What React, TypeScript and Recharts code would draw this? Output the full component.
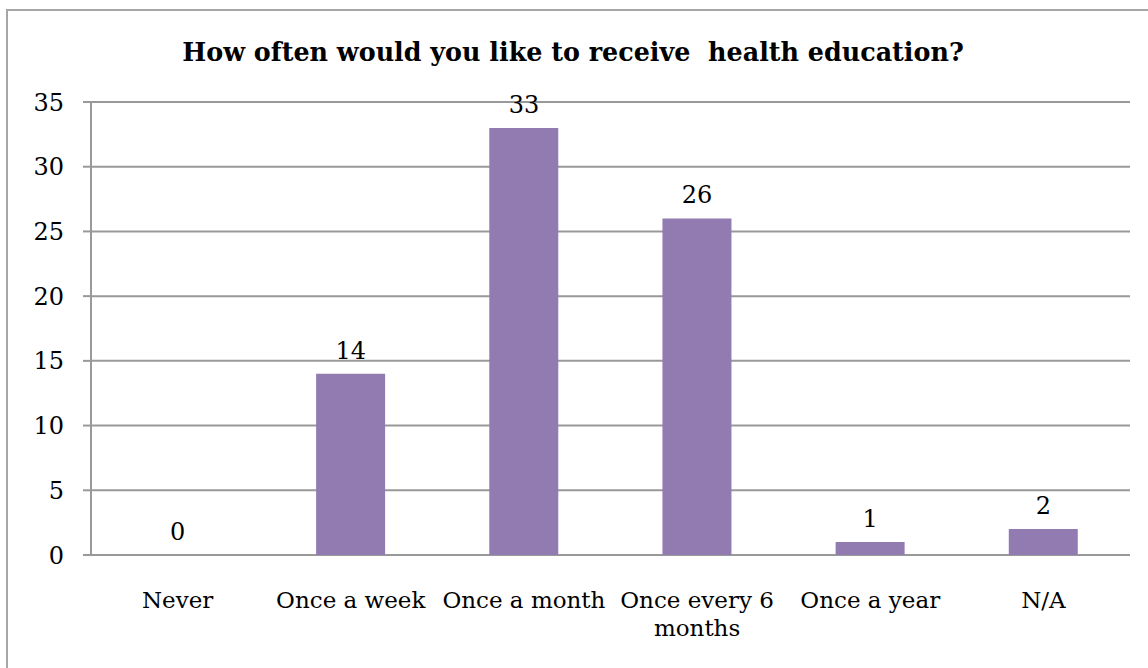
import React from "react";
import {
  Bar,
  ComposedChart,
  CartesianGrid,
  LabelList,
  Line,
  XAxis,
  YAxis,
} from "recharts";

const categories = [
  "Never",
  "Once a week",
  "Once a month",
  "Once every 6 months",
  "Once a year",
  "N/A",
];
const counts = [0, 14, 33, 26, 1, 2];
const tickLines = [
  ["Never"],
  ["Once a week"],
  ["Once a month"],
  ["Once every 6", "months"],
  ["Once a year"],
  ["N/A"],
];
const yTicks = [0, 5, 10, 15, 20, 25, 30, 35];
const edgeTicks = [0, 1, 2, 3, 4, 5, 6];

const data = categories.map((name, i) => ({ name, idx: i, value: counts[i] }));

const font = "'DejaVu Serif', serif";
const grey = "#999999";

function CategoryTick(props: any) {
  const { x, y, index } = props;
  const lines = tickLines[index] || [];
  return (
    <text
      x={x}
      y={y}
      textAnchor="middle"
      fontFamily={font}
      fontSize={23}
      fill="#000"
    >
      {lines.map((l, i) => (
        <tspan key={i} x={x} dy={i === 0 ? 53 : 28}>
          {l}
        </tspan>
      ))}
    </text>
  );
}

export default function App() {
  return (
    <div
      style={{
        position: "absolute",
        left: 6,
        top: 9,
        width: 1180,
        height: 700,
        border: "2px solid #a6a6a6",
        background: "#fff",
      }}
    >
      <div
        style={{
          position: "absolute",
          left: 0,
          width: 1130,
          top: 26,
          textAlign: "center",
          fontFamily: font,
          fontWeight: "bold",
          fontSize: 25.4,
          color: "#000",
          whiteSpace: "pre",
        }}
      >
        How often would you like to receive  health education?
      </div>
      <ComposedChart
        width={1180}
        height={700}
        data={data}
        barCategoryGap="30%"
        margin={{ top: 91, right: 58, left: 23, bottom: 76 }}
      >
        <CartesianGrid vertical={false} stroke={grey} strokeWidth={2} />
        <XAxis
          xAxisId="edges"
          type="number"
          dataKey="idx"
          domain={[0, 6]}
          ticks={edgeTicks}
          tick={false}
          tickSize={8}
          tickLine={{ stroke: grey, strokeWidth: 2 }}
          axisLine={{ stroke: grey, strokeWidth: 2 }}
          height={0}
        />
        <XAxis
          dataKey="name"
          type="category"
          tickSize={0}
          tickMargin={0}
          tickLine={false}
          axisLine={false}
          interval={0}
          tick={<CategoryTick />}
          height={80}
        />
        <YAxis
          domain={[0, 35]}
          ticks={yTicks}
          width={60}
          tickSize={8}
          tickMargin={19}
          tickLine={{ stroke: grey, strokeWidth: 2 }}
          axisLine={{ stroke: grey, strokeWidth: 2 }}
          tick={{ fontFamily: font, fontSize: 24, fill: "#000" }}
        />
        <Bar dataKey="value" fill="#927bb1" isAnimationActive={false} />
        <Line
          dataKey="value"
          stroke="none"
          dot={false}
          activeDot={false}
          isAnimationActive={false}
        >
          <LabelList
            dataKey="value"
            position="top"
            offset={15}
            fontFamily={font}
            fontSize={24}
            fill="#000"
          />
        </Line>
      </ComposedChart>
    </div>
  );
}
